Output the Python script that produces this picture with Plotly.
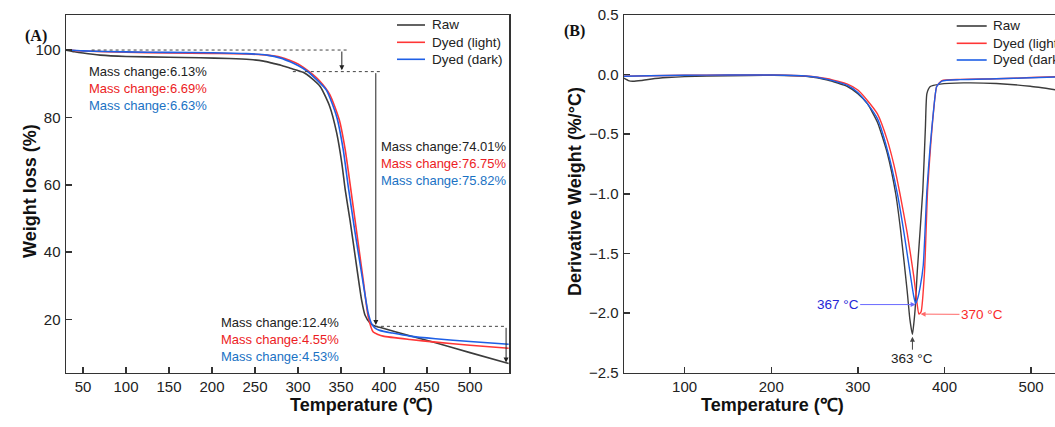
import plotly.graph_objects as go

# ---------------- Data ----------------
# Panel A: TGA (weight %, vs temperature °C)
raw_tga_T = [30, 40, 50, 70, 100, 150, 186, 220, 244, 260, 271, 280, 291, 306, 316, 326, 337, 345, 351, 355,
             360.5, 368.3, 374, 378, 383.7, 390, 395, 430, 460, 500, 545]
raw_tga_W = [100, 99.5, 99.1, 98.5, 98.1, 97.85, 97.7, 97.5, 97.2, 96.7, 96.05, 95.5, 94.6, 93.4, 91.6, 89.1, 83.2,
             75.4, 66.4, 58.4, 49.5, 35.6, 25.8, 21.3, 19.0, 18.0, 17.7, 15.2, 13.1, 10.2, 7.0]

light_tga_T = [30, 50, 100, 150, 200, 240, 264, 280, 291, 300, 313, 325, 337, 348, 355, 360, 370, 376, 381.7,
               387.5, 393, 399, 430, 460, 500, 545]
light_tga_W = [100, 99.7, 99.35, 99.15, 99.0, 98.85, 98.5, 97.85, 96.9, 95.9, 93.6, 90.9, 86.8, 79.3, 70.3, 61.3,
               42.7, 31.5, 20.8, 16.3, 15.6, 15.1, 14.1, 13.3, 12.4, 11.5]

dark_tga_T = [30, 50, 100, 150, 200, 240, 264, 280, 291, 300, 310, 320, 333, 345, 352.7, 358.5, 366, 374, 381.7,
              385.6, 390, 395, 410, 430, 460, 500, 545]
dark_tga_W = [100, 99.75, 99.45, 99.3, 99.2, 98.95, 98.5, 97.6, 96.5, 95.4, 93.85, 91.6, 88.1, 80.2, 70.3, 59.4,
              46.5, 33.7, 21.9, 18.8, 17.4, 16.8, 16.0, 15.1, 14.3, 13.5, 12.7]

# Panel B: DTG (%/°C vs temperature °C)
raw_dtg_T = [30, 35, 40, 50, 62, 80, 100, 150, 203, 240, 265, 288, 300, 311, 322.6, 334, 343.7, 349.4, 357, 360,
             363, 366, 368.6, 375, 378, 379.7, 383.6, 395, 422, 460, 499, 528]
raw_dtg_V = [-0.03, -0.05, -0.056, -0.05, -0.037, -0.025, -0.017, -0.01, -0.006, -0.015, -0.045, -0.10, -0.16,
             -0.244, -0.40, -0.66, -1.0, -1.31, -1.82, -2.05, -2.18, -1.98, -1.65, -0.97, -0.44, -0.16, -0.10,
             -0.08, -0.07, -0.075, -0.098, -0.127]

light_dtg_T = [30, 60, 100, 150, 200, 240, 265, 288, 300, 311, 322.6, 334, 341.7, 348.6, 357, 364.7, 368, 370.5,
               373, 377, 380.5, 384, 387.5, 391, 397, 418, 460, 500, 528]
light_dtg_V = [-0.014, -0.01, -0.006, -0.003, -0.004, -0.012, -0.035, -0.08, -0.13, -0.217, -0.33, -0.55, -0.76,
               -1.0, -1.33, -1.7, -1.9, -2.01, -1.99, -1.65, -0.97, -0.6, -0.3, -0.1, -0.05, -0.04, -0.035,
               -0.025, -0.018]

dark_dtg_T = [30, 60, 100, 150, 200, 240, 265, 288, 300, 311, 322.6, 334, 345.6, 353.3, 361, 364.5, 366.7, 369,
              372, 375.5, 379.7, 383.5, 387.4, 391, 397, 418, 460, 500, 528]
dark_dtg_V = [-0.014, -0.01, -0.006, -0.003, -0.004, -0.012, -0.04, -0.09, -0.15, -0.244, -0.37, -0.63, -1.0,
              -1.33, -1.7, -1.86, -1.92, -1.88, -1.78, -1.6, -0.97, -0.6, -0.3, -0.10, -0.054, -0.042, -0.035,
              -0.027, -0.02]

series_names = ["Raw", "Dyed (light)", "Dyed (dark)"]

# Tick labels
a_xticks = [50, 100, 150, 200, 250, 300, 350, 400, 450, 500]
a_yticks = [20, 40, 60, 80, 100]
b_xticks = [100, 200, 300, 400, 500]
b_yticks = [0.5, 0.0, -0.5, -1.0, -1.5, -2.0, -2.5]

# Mass change labels
stage1_labels = ["Mass change:6.13%", "Mass change:6.69%", "Mass change:6.63%"]
stage2_labels = ["Mass change:74.01%", "Mass change:76.75%", "Mass change:75.82%"]
stage3_labels = ["Mass change:12.4%", "Mass change:4.55%", "Mass change:4.53%"]

# Guide levels (dotted lines / arrows) in panel A: (x0, x1, y)
guide_dotted = [(60, 360, 100.0), (294, 397, 93.6), (389.5, 542, 18.0)]
# arrows: (x, y_from, y_to)
guide_arrows = [(351, 100.0, 94.0), (390.5, 93.6, 18.4), (542, 18.0, 7.3)]

# Peak labels in panel B: (text, head_T, head_V, text_T, text_V, color_text, color_arrow)
peaks = [("367 °C", 366.7, -1.93, 276.7, -1.93, "#2626d6", "#6a6aff"),
         ("370 °C", 372.4, -2.01, 443.3, -2.013, "#fa2a2a", "#ff6a6a"),
         ("363 °C", 363.0, -2.20, 363.0, -2.384, "#222222", "#444444")]

# ---------------- Styles ----------------
C_RAW = "#3c3c3c"
C_LIGHT = "#ff3636"
C_DARK = "#1e5fe6"
TXT_RED = "#ec1c24"
TXT_BLUE = "#1a72c4"
AX = "#333333"
FONT = "Liberation Sans, Arial, sans-serif"
W, H = 1055, 427

fig = go.Figure()

colors = [C_RAW, C_LIGHT, C_DARK]
tga = [(raw_tga_T, raw_tga_W), (light_tga_T, light_tga_W), (dark_tga_T, dark_tga_W)]
dtg = [(raw_dtg_T, raw_dtg_V), (light_dtg_T, light_dtg_V), (dark_dtg_T, dark_dtg_V)]

for name, col, (t, w) in zip(series_names, colors, tga):
    fig.add_trace(go.Scatter(x=t, y=w, mode="lines", name=name,
                             line=dict(color=col, width=1.6, shape="spline", smoothing=0.6),
                             xaxis="x", yaxis="y", showlegend=False))
for name, col, (t, v) in zip(series_names, colors, dtg):
    fig.add_trace(go.Scatter(x=t, y=v, mode="lines", name=name,
                             line=dict(color=col, width=1.4, shape="spline", smoothing=0.5),
                             xaxis="x2", yaxis="y2", showlegend=False))

ax_common = dict(showline=True, linecolor=AX, linewidth=1.5, ticks="inside", ticklen=6, tickwidth=1.5,
                 tickcolor=AX, showgrid=False, zeroline=False,
                 tickfont=dict(family=FONT, size=15, color="#222222"))

Y_DOM = [1 - 372.5 / H, 1 - 15 / H]
fig.update_layout(
    width=W, height=H,
    margin=dict(l=0, r=0, t=0, b=0, autoexpand=False),
    paper_bgcolor="white", plot_bgcolor="white",
    font=dict(family=FONT, color="#222222"),
    showlegend=False,
    xaxis=dict(domain=[66 / W, 509 / W], range=[30.2, 545.4], tickvals=a_xticks, mirror=True,
               anchor="y", ticklabelstandoff=0, **ax_common),
    yaxis=dict(domain=Y_DOM, range=[4.3, 110.4], tickvals=a_yticks, mirror=True, anchor="x",
               ticklabelstandoff=1, **ax_common),
    xaxis2=dict(domain=[624 / W, 1.0], range=[30, 527.6], tickvals=b_xticks, mirror=True, anchor="y2",
                ticklabelstandoff=0, **ax_common),
    yaxis2=dict(domain=Y_DOM, range=[-2.5, 0.5], tickvals=b_yticks, tickformat=".1f", mirror=False,
                anchor="x2", ticklabelstandoff=1, **ax_common),
)

# Manual legends (sample line + label), one per panel
legend_specs = [(397, 425, 430, [25, 42.3, 59.3]), (956.7, 986.7, 990.7, [26, 43.3, 60])]
for lx0, lx1, tx, rows in legend_specs:
    for name, col, ry in zip(series_names, colors, rows):
        fig.add_shape(type="line", xref="paper", yref="paper", x0=lx0 / W, x1=lx1 / W,
                      y0=1 - ry / H, y1=1 - ry / H, line=dict(color=col, width=1.6))
        fig.add_annotation(xref="paper", yref="paper", x=tx / W, y=1 - ry / H, xanchor="left",
                           yanchor="middle", text=name, showarrow=False,
                           font=dict(family=FONT, size=13.5, color="#222222"))

# Dotted guide lines in A
for x0, x1, y in guide_dotted:
    fig.add_shape(type="line", xref="x", yref="y", x0=x0, x1=x1, y0=y, y1=y,
                  line=dict(color="#444444", width=1, dash="dot"))
# Arrows in A
for x, y0, y1 in guide_arrows:
    fig.add_annotation(xref="x", yref="y", axref="x", ayref="y", x=x, y=y1, ax=x, ay=y0, text="",
                       showarrow=True, arrowhead=2, arrowsize=1, arrowwidth=1, arrowcolor="#222222")

# Mass change text blocks
def block(labels):
    cols = ["#222222", TXT_RED, TXT_BLUE]
    return "<br>".join(f"<span style='color:{c}'>{t}</span>" for t, c in zip(labels, cols))

for labels, px, py in [(stage1_labels, 87.3, 88.5), (stage2_labels, 379.3, 163.0), (stage3_labels, 219.3, 339.5)]:
    fig.add_annotation(xref="paper", yref="paper", x=px / W, y=1 - py / H, xanchor="left", yanchor="middle",
                       align="left", text=block(labels), showarrow=False,
                       font=dict(family=FONT, size=13))

# Peak labels in B
for txt, hx, hy, tx, ty, ct, ca in peaks:
    fig.add_annotation(xref="x2", yref="y2", axref="x2", ayref="y2", x=hx, y=hy, ax=tx, ay=ty, text=txt,
                       showarrow=True, arrowhead=2, arrowsize=1, arrowwidth=1, arrowcolor=ca,
                       font=dict(family=FONT, size=13.5, color=ct))

# Axis titles
title_font = dict(family=FONT, size=18, color="#111111", weight="bold")
fig.add_annotation(xref="paper", yref="paper", x=18 / W, y=1 - 191 / H, text="Weight loss (%)",
                   textangle=-90, showarrow=False, font=title_font)
fig.add_annotation(xref="paper", yref="paper", x=575 / W, y=1 - 192 / H, text="Derivative Weight (%/°C)",
                   textangle=-90, showarrow=False, font=title_font)
fig.add_annotation(xref="paper", yref="paper", x=288 / W, y=1 - 416.5 / H, text="Temperature (℃)",
                   showarrow=False, font=title_font)
fig.add_annotation(xref="paper", yref="paper", x=845.5 / W, y=1 - 416.5 / H, text="Temperature (℃)",
                   showarrow=False, font=title_font)

# Panel labels
panel_font = dict(family="Liberation Serif, Times New Roman, serif", size=16, color="#111111", weight="bold")
fig.add_annotation(xref="paper", yref="paper", x=23 / W, y=1 - 25 / H, text="(A)", showarrow=False,
                   font=panel_font)
fig.add_annotation(xref="paper", yref="paper", x=574 / W, y=1 - 20 / H, text="(B)", showarrow=False,
                   font=panel_font)

fig.write_html("out.html", config={"displayModeBar": False, "staticPlot": True},
               post_script="document.body.style.margin='0';document.body.style.overflow='hidden';")
